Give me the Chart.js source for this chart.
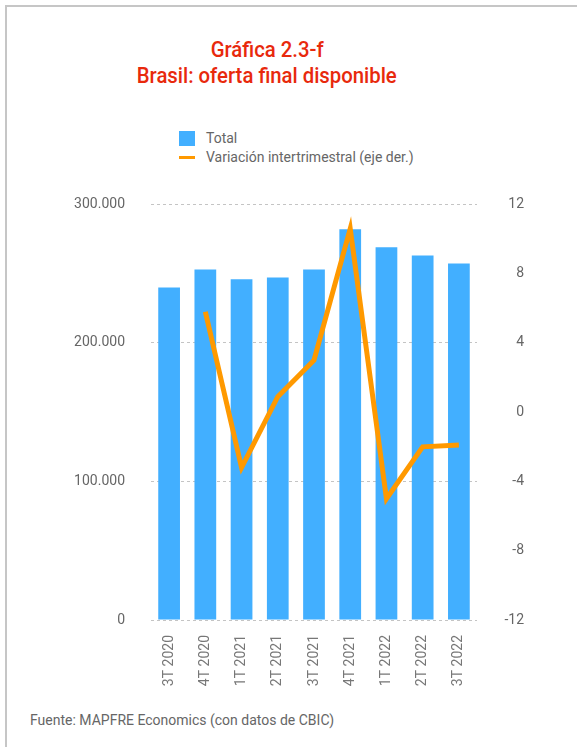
<!DOCTYPE html>
<html>
<head>
<meta charset="utf-8">
<script src="https://cdn.jsdelivr.net/npm/chart.js@4/dist/chart.umd.min.js"></script>
<style>
  html, body { margin: 0; padding: 0; background: #fff; }
  body { width: 577px; height: 747px; position: relative; overflow: hidden; font-family: Roboto, "Noto Sans", sans-serif; }
  .frame-top { position: absolute; left: 5px; top: 5px; width: 572px; height: 2px; background: #c6c6c6; }
  .frame-left { position: absolute; left: 5px; top: 5px; width: 2px; height: 742px; background: #c6c6c6; }
  .tline { position: absolute; left: 0; width: 534px; text-align: center; color: #e8290c; font-family: Roboto, sans-serif; font-size: 22px; line-height: 26px; font-weight: 500; white-space: nowrap; }
  .tline span { display: inline-block; transform-origin: center; }
  .leg { position: absolute; color: #666; font-size: 14px; line-height: 16px; white-space: nowrap; }
  .sw-bar { position: absolute; left: 179px; top: 131px; width: 16px; height: 15px; background: #42afff; }
  .sw-line { position: absolute; left: 179px; top: 156px; width: 16px; height: 3px; background: #ff9900; }
  .footer { position: absolute; left: 30px; top: 712px; color: #666; font-size: 14px; white-space: nowrap; }
  #wrap { position: absolute; left: 0; top: 170px; width: 577px; height: 530px; }
</style>
</head>
<body>
<div class="frame-top"></div>
<div class="frame-left"></div>
<div class="tline" style="top:37px;"><span id="t1">Gráfica 2.3-f</span></div>
<div class="tline" style="top:63px;"><span id="t2">Brasil: oferta final disponible</span></div>
<div class="sw-bar"></div>
<div class="leg" style="left:206px; top:130px;">Total</div>
<div class="sw-line"></div>
<div class="leg" style="left:206px; top:149px;">Variación intertrimestral (eje der.)</div>
<div id="wrap"><canvas id="c" width="577" height="530"></canvas></div>
<div class="footer">Fuente: MAPFRE Economics (con datos de CBIC)</div>
<script>
const categories = ["3T 2020", "4T 2020", "1T 2021", "2T 2021", "3T 2021", "4T 2021", "1T 2022", "2T 2022", "3T 2022"];
const totalValues = [240000, 253000, 246000, 247300, 253000, 282000, 269000, 263200, 257400];
const variationValues = [null, 5.8, -3.2, 0.9, 3.0, 10.6, -5.0, -2.0, -1.9];
const leftTicks = [0, 100000, 200000, 300000];
const rightTicks = [-12, -8, -4, 0, 4, 8, 12];

// condense title text to the reference width
(function () {
  const t2 = document.getElementById("t2");
  const s = 260 / t2.getBoundingClientRect().width;
  t2.style.transform = "scaleX(" + s + ")";
  document.getElementById("t1").style.transform = "scaleX(" + s + ")";
})();

const tickFont = { family: "Roboto, 'Noto Sans', sans-serif", size: 14 };
const fmt = v => String(v).replace(/\B(?=(\d{3})+(?!\d))/g, ".");

new Chart(document.getElementById("c"), {
  data: {
    labels: categories,
    datasets: [
      {
        type: "line", label: "Variación intertrimestral (eje der.)", data: variationValues,
        yAxisID: "y2", borderColor: "#ff9900", borderWidth: 5, pointRadius: 0,
        tension: 0, order: 0, spanGaps: false, borderJoinStyle: "miter"
      },
      {
        type: "bar", label: "Total", data: totalValues, yAxisID: "y",
        backgroundColor: "#42afff", barPercentage: 0.6, categoryPercentage: 1, order: 1
      }
    ]
  },
  options: {
    responsive: false, animation: false,
    layout: { padding: { top: 14, left: 0, right: 53, bottom: 0 } },
    plugins: { legend: { display: false }, title: { display: false }, tooltip: { enabled: false } },
    scales: {
      x: {
        grid: { display: false }, border: { display: false },
        ticks: { minRotation: 90, maxRotation: 90, padding: 7, color: "#777", font: tickFont },
        afterFit: s => { s.height = 80; }
      },
      y: {
        position: "left", min: 0, max: 300000,
        afterBuildTicks: s => { s.ticks = leftTicks.map(v => ({ value: v })); },
        grid: { color: "#c4c4c4", lineWidth: 1, drawTicks: false },
        border: { display: false, dash: [3, 3] },
        ticks: { padding: 26, color: "#666", font: tickFont, callback: v => fmt(v) },
        afterFit: s => { s.width = 151; }
      },
      y2: {
        position: "right", min: -12, max: 12,
        afterBuildTicks: s => { s.ticks = rightTicks.map(v => ({ value: v })); },
        grid: { display: false, drawTicks: false }, border: { display: false },
        ticks: { padding: 25, crossAlign: "far", color: "#666", font: tickFont },
        afterFit: s => { s.width = 47; }
      }
    }
  }
});
</script>
</body>
</html>
